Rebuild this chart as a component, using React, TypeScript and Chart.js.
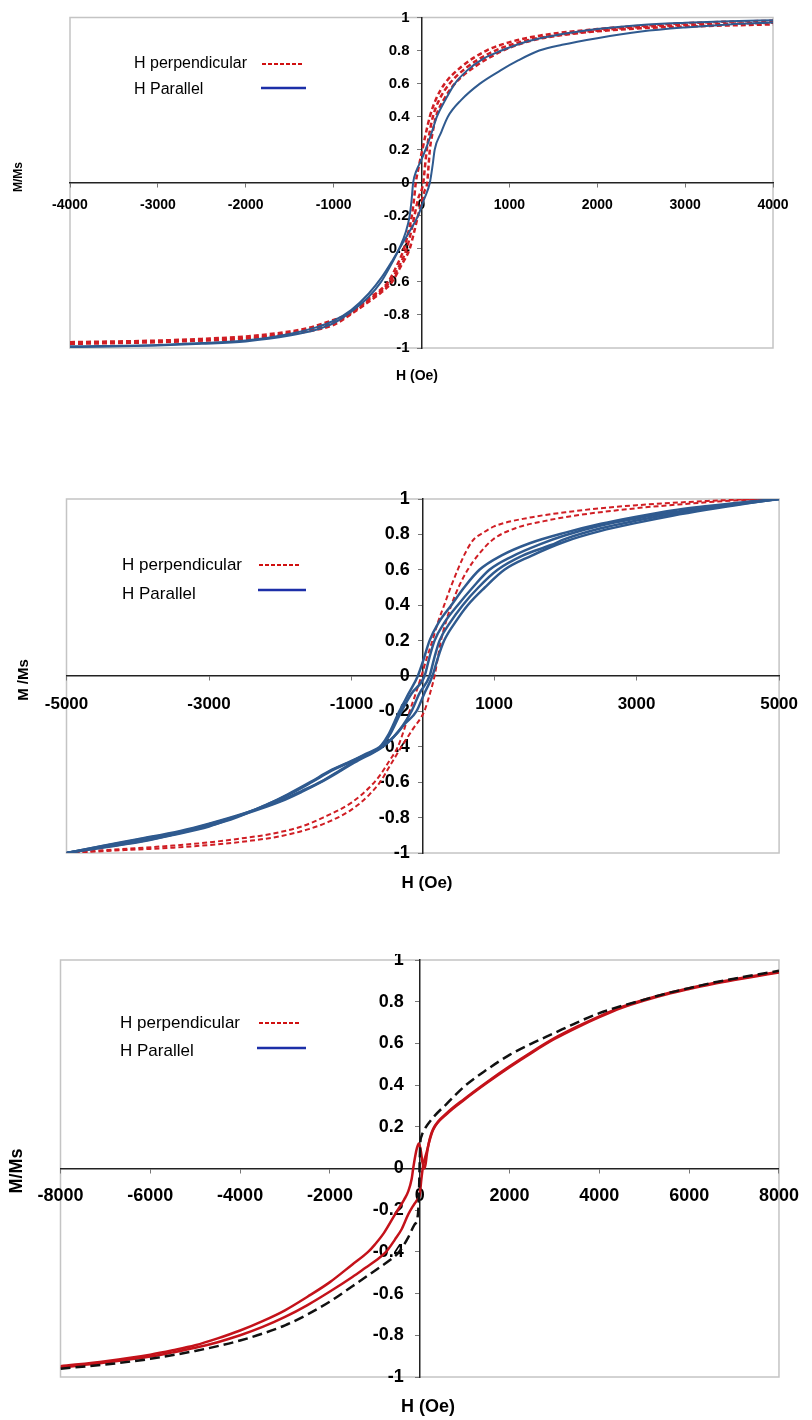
import React, { useEffect, useRef } from "react";
import { Chart, registerables } from "chart.js";
Chart.register(...registerables);

type P = [number, number];

const FONT = '"Liberation Sans", Arial, Helvetica, sans-serif';

// ---------- shared labels / ticks ----------
const legendLabels = ["H perpendicular", "H Parallel"];
const xTitle = "H (Oe)";
const yTitles = ["M/Ms", "M /Ms", "M/Ms"];
const yTicks = [-1, -0.8, -0.6, -0.4, -0.2, 0, 0.2, 0.4, 0.6, 0.8, 1];
const xTicks1 = [-4000, -3000, -2000, -1000, 0, 1000, 2000, 3000, 4000];
const xTicks2 = [-5000, -3000, -1000, 1000, 3000, 5000];
const xTicks3 = [-8000, -6000, -4000, -2000, 0, 2000, 4000, 6000, 8000];

// ---------- chart 1 ----------
const c1ParA: P[] = [[-4000,-0.995],[-3000,-0.985],[-2500,-0.975],[-2000,-0.96],[-1500,-0.925],[-1200,-0.89],[-1000,-0.85],[-800,-0.78],[-600,-0.69],[-460,-0.6],[-350,-0.5],[-255,-0.4],[-180,-0.3],[-135,-0.2],[-112,-0.1],[-95,0],[-60,0.07],[0,0.14],[60,0.22],[120,0.31],[175,0.4],[270,0.5],[380,0.6],[520,0.68],[700,0.75],[910,0.8],[1200,0.855],[1500,0.89],[2000,0.93],[2500,0.955],[3000,0.968],[3500,0.977],[4000,0.983]];
const c1ParB: P[] = [[-4000,-0.99],[-3000,-0.982],[-2500,-0.97],[-2000,-0.955],[-1500,-0.915],[-1200,-0.875],[-1000,-0.835],[-800,-0.77],[-600,-0.67],[-450,-0.57],[-330,-0.47],[-220,-0.37],[-120,-0.28],[-40,-0.2],[30,-0.1],[95,0],[125,0.1],[150,0.2],[220,0.3],[300,0.4],[450,0.5],[665,0.6],[900,0.68],[1100,0.74],[1340,0.8],[1600,0.835],[2000,0.875],[2500,0.915],[3000,0.94],[3500,0.958],[4000,0.97]];
const c1PerA: P[] = [[-4000,-0.965],[-3000,-0.955],[-2500,-0.945],[-2000,-0.93],[-1500,-0.9],[-1300,-0.88],[-1000,-0.83],[-850,-0.8],[-600,-0.7],[-380,-0.6],[-280,-0.5],[-200,-0.4],[-150,-0.3],[-110,-0.2],[-85,-0.1],[-65,0],[-30,0.1],[10,0.2],[50,0.3],[95,0.4],[160,0.5],[265,0.6],[450,0.7],[740,0.8],[1000,0.85],[1340,0.89],[2000,0.93],[2500,0.95],[3000,0.965],[3500,0.975],[4000,0.98]];
const c1PerB: P[] = [[-4000,-0.975],[-3000,-0.965],[-2500,-0.955],[-2000,-0.945],[-1500,-0.915],[-1300,-0.9],[-1000,-0.86],[-815,-0.8],[-600,-0.72],[-450,-0.66],[-335,-0.6],[-230,-0.5],[-135,-0.4],[-85,-0.3],[-40,-0.2],[0,-0.12],[35,-0.05],[65,0],[80,0.1],[95,0.2],[125,0.3],[165,0.4],[250,0.5],[380,0.6],[600,0.7],[930,0.8],[1250,0.86],[1700,0.9],[2500,0.935],[3000,0.945],[3500,0.952],[4000,0.958]];
const c1PerC: P[] = [[-4000,-0.97],[-3000,-0.96],[-2000,-0.94],[-1500,-0.91],[-1000,-0.845],[-830,-0.8],[-600,-0.71],[-360,-0.6],[-250,-0.5],[-170,-0.4],[-120,-0.3],[-80,-0.2],[-40,-0.1],[20,0],[40,0.1],[60,0.2],[90,0.3],[130,0.4],[200,0.5],[320,0.6],[520,0.7],[840,0.8],[1150,0.855],[1500,0.89],[2300,0.935],[3000,0.955],[4000,0.968]];

// ---------- chart 2 ----------
const c2ParA: P[] = [[-5000,-1],[-4500,-0.97],[-4000,-0.94],[-3530,-0.9],[-3000,-0.85],[-2660,-0.8],[-2200,-0.73],[-1900,-0.67],[-1580,-0.6],[-1300,-0.535],[-1000,-0.48],[-800,-0.44],[-640,-0.41],[-580,-0.39],[-480,-0.33],[-330,-0.2],[-200,-0.1],[-70,0],[0,0.08],[95,0.2],[220,0.3],[400,0.4],[580,0.5],[795,0.6],[1100,0.68],[1500,0.75],[2000,0.81],[2500,0.86],[3000,0.9],[3500,0.935],[4000,0.96],[4500,0.982],[5000,1]];
const c2ParB: P[] = [[-5000,-1],[-4500,-0.968],[-4000,-0.937],[-3500,-0.895],[-3000,-0.847],[-2620,-0.8],[-2200,-0.728],[-1880,-0.67],[-1560,-0.6],[-1280,-0.535],[-1000,-0.482],[-800,-0.445],[-630,-0.415],[-560,-0.39],[-460,-0.33],[-300,-0.2],[-160,-0.1],[25,0],[90,0.1],[165,0.2],[300,0.3],[490,0.4],[700,0.5],[935,0.6],[1250,0.675],[1650,0.745],[2000,0.795],[2500,0.85],[3000,0.89],[3500,0.925],[4000,0.953],[4500,0.978],[5000,1]];
const c2ParC: P[] = [[-5000,-1],[-4500,-0.962],[-4000,-0.925],[-3400,-0.88],[-3000,-0.838],[-2500,-0.78],[-2000,-0.71],[-1700,-0.655],[-1430,-0.6],[-1150,-0.535],[-900,-0.475],[-700,-0.435],[-560,-0.4],[-420,-0.35],[-280,-0.28],[-160,-0.2],[-50,-0.1],[95,0],[160,0.1],[235,0.2],[380,0.3],[560,0.4],[780,0.5],[1050,0.6],[1400,0.68],[1800,0.74],[2000,0.775],[2500,0.835],[3000,0.878],[3500,0.915],[4000,0.946],[4500,0.975],[5000,1]];
const c2ParD: P[] = [[-5000,-1],[-4500,-0.96],[-4000,-0.922],[-3400,-0.875],[-3000,-0.834],[-2500,-0.775],[-2000,-0.705],[-1700,-0.65],[-1420,-0.595],[-1150,-0.53],[-900,-0.47],[-700,-0.43],[-540,-0.39],[-400,-0.34],[-250,-0.27],[-90,-0.2],[20,-0.1],[135,0],[210,0.1],[300,0.2],[450,0.3],[630,0.4],[870,0.5],[1145,0.6],[1500,0.675],[2000,0.76],[2500,0.82],[3000,0.865],[3500,0.905],[4000,0.94],[4500,0.972],[5000,1]];
const c2PerA: P[] = [[-5000,-1],[-4500,-0.985],[-4000,-0.972],[-3500,-0.958],[-3000,-0.94],[-2500,-0.915],[-2100,-0.89],[-1700,-0.85],[-1400,-0.8],[-1000,-0.715],[-750,-0.63],[-600,-0.56],[-470,-0.48],[-350,-0.4],[-260,-0.3],[-185,-0.2],[-100,-0.1],[-20,0],[55,0.1],[135,0.2],[210,0.3],[300,0.4],[390,0.5],[490,0.6],[590,0.69],[700,0.765],[850,0.81],[1000,0.845],[1500,0.895],[2000,0.925],[2500,0.948],[3000,0.965],[3500,0.978],[4000,0.989],[4500,0.997],[5000,1]];
const c2PerB: P[] = [[-5000,-1],[-4500,-0.99],[-4000,-0.98],[-3500,-0.97],[-3000,-0.955],[-2400,-0.93],[-2000,-0.905],[-1600,-0.865],[-1300,-0.82],[-1000,-0.755],[-750,-0.67],[-600,-0.6],[-450,-0.5],[-300,-0.4],[-140,-0.3],[20,-0.2],[100,-0.1],[165,0],[210,0.1],[255,0.2],[320,0.3],[400,0.4],[500,0.5],[630,0.6],[790,0.69],[980,0.77],[1300,0.835],[1700,0.875],[2200,0.91],[3000,0.948],[3500,0.966],[4000,0.982],[4500,0.994],[5000,1]];

// ---------- chart 3 ----------
const c3Black: P[] = [[-8000,-0.96],[-7000,-0.94],[-6000,-0.913],[-5000,-0.875],[-4500,-0.852],[-4000,-0.825],[-3500,-0.792],[-3000,-0.752],[-2500,-0.7],[-2000,-0.638],[-1500,-0.565],[-1000,-0.49],[-700,-0.445],[-460,-0.4],[-256,-0.33],[-120,-0.27],[-40,-0.22],[-15,-0.1],[0,0.04],[12,0.12],[40,0.155],[100,0.185],[300,0.245],[600,0.31],[1000,0.395],[1500,0.475],[2000,0.545],[2500,0.6],[3000,0.65],[3500,0.7],[4000,0.745],[4500,0.78],[5000,0.81],[5500,0.84],[6000,0.865],[6500,0.89],[7000,0.91],[7500,0.93],[8000,0.948]];
const c3RedA: P[] = [[-8000,-0.948],[-7000,-0.924],[-6000,-0.893],[-5500,-0.872],[-5000,-0.848],[-4500,-0.815],[-4000,-0.777],[-3500,-0.732],[-3000,-0.68],[-2500,-0.615],[-2000,-0.545],[-1500,-0.46],[-1150,-0.4],[-1000,-0.365],[-800,-0.31],[-550,-0.22],[-350,-0.15],[-256,-0.11],[-180,-0.05],[-146,0],[-100,0.06],[-60,0.1],[-22,0.12],[20,0.09],[60,0.03],[100,0],[130,0.02],[160,0.07],[220,0.14],[300,0.19],[600,0.265],[1000,0.335],[1500,0.415],[2000,0.49],[2500,0.56],[3000,0.625],[3500,0.68],[4000,0.73],[4500,0.775],[5000,0.81],[5500,0.84],[6000,0.865],[6500,0.888],[7000,0.908],[7500,0.926],[8000,0.943]];
const c3RedB: P[] = [[-8000,-0.955],[-7000,-0.931],[-6000,-0.902],[-5500,-0.882],[-5000,-0.86],[-4500,-0.833],[-4000,-0.8],[-3500,-0.76],[-3000,-0.712],[-2500,-0.655],[-2000,-0.59],[-1500,-0.52],[-1200,-0.475],[-1000,-0.445],[-750,-0.4],[-550,-0.34],[-400,-0.29],[-256,-0.22],[-150,-0.18],[-73,-0.155],[0,-0.125],[37,-0.05],[80,0.02],[150,0.075],[220,0.135],[300,0.186],[600,0.261],[1000,0.331],[1500,0.411],[2000,0.486],[2500,0.556],[3000,0.621],[3500,0.676],[4000,0.726],[4500,0.771],[5000,0.806],[5500,0.836],[6000,0.861],[6500,0.884],[7000,0.904],[7500,0.922],[8000,0.94]];

// ---------- presentation ----------
const BLUE = "#2f5a8f";
const RED = "#d01e24";
const RED3 = "#c4121a";
const BLACK = "#111111";

type DS = { data: P[]; color: string; width: number; dash?: number[] };

interface Spec {
  top: number; height: number;
  padding: { left: number; right: number; top: number; bottom: number };
  xMin: number; xMax: number; xTicks: number[];
  xTickSize: number; xPad: number;
  yTickSize: number; yGap: number;
  yTitle: string; yTitleX: number; yTitleY: number; yTitleSize: number;
  xTitleX: number; xTitleY: number; xTitleSize: number;
  legX: number; legY1: number; legY2: number; legSize: number;
  redLine: [number, number, number]; blueLine: [number, number, number];
  series: DS[];
}

const specs: Spec[] = [
  {
    top: 0, height: 400,
    padding: { left: 70, right: 39, top: 17.5, bottom: 52 },
    xMin: -4000, xMax: 4000, xTicks: xTicks1, xTickSize: 14, xPad: 10,
    yTickSize: 15, yGap: 12,
    yTitle: yTitles[0], yTitleX: 19, yTitleY: 177, yTitleSize: 12,
    xTitleX: 417, xTitleY: 376.5, xTitleSize: 14,
    legX: 134, legY1: 64, legY2: 90, legSize: 16,
    redLine: [262, 302, 64], blueLine: [261, 306, 88],
    series: [
      { data: c1ParA, color: BLUE, width: 2 },
      { data: c1ParB, color: BLUE, width: 2 },
      { data: c1PerA, color: RED, width: 2.5, dash: [5, 3] },
      { data: c1PerB, color: RED, width: 2.5, dash: [5, 3] },
      { data: c1PerC, color: RED, width: 2.5, dash: [5, 3] },
    ],
  },
  {
    top: 460, height: 440,
    padding: { left: 66.5, right: 32, top: 39, bottom: 47 },
    xMin: -5000, xMax: 5000, xTicks: xTicks2, xTickSize: 17, xPad: 14,
    yTickSize: 18, yGap: 13,
    yTitle: yTitles[1], yTitleX: 24, yTitleY: 680, yTitleSize: 15,
    xTitleX: 427, xTitleY: 883, xTitleSize: 17,
    legX: 122, legY1: 565, legY2: 594, legSize: 17,
    redLine: [259, 300, 565], blueLine: [258, 306, 590],
    series: [
      { data: c2ParA, color: BLUE, width: 2.5 },
      { data: c2ParB, color: BLUE, width: 2.5 },
      { data: c2ParC, color: BLUE, width: 2.5 },
      { data: c2ParD, color: BLUE, width: 2.5 },
      { data: c2PerA, color: RED, width: 2, dash: [5, 3] },
      { data: c2PerB, color: RED, width: 2, dash: [5, 3] },
    ],
  },
  {
    top: 954, height: 466,
    padding: { left: 60.5, right: 21, top: 6, bottom: 43 },
    xMin: -8000, xMax: 8000, xTicks: xTicks3, xTickSize: 18, xPad: 13,
    yTickSize: 18, yGap: 16,
    yTitle: yTitles[2], yTitleX: 17, yTitleY: 1171, yTitleSize: 18,
    xTitleX: 428, xTitleY: 1407, xTitleSize: 18,
    legX: 120, legY1: 1023, legY2: 1051, legSize: 17,
    redLine: [259, 300, 1023], blueLine: [257, 306, 1048],
    series: [
      { data: c3Black, color: BLACK, width: 2.5, dash: [10, 5] },
      { data: c3RedA, color: RED3, width: 2.5 },
      { data: c3RedB, color: RED3, width: 2.5 },
    ],
  },
];

const fmtY = (v: number) => String(Math.round(v * 10) / 10);

function decoPlugin(spec: Spec) {
  return {
    id: "deco",
    beforeDraw(chart: any) {
      const { ctx, chartArea: a } = chart;
      ctx.save();
      ctx.fillStyle = "#ffffff";
      ctx.fillRect(0, 0, chart.width, chart.height);
      ctx.strokeStyle = "#c4c4c4";
      ctx.lineWidth = 1.5;
      ctx.strokeRect(a.left, a.top, a.right - a.left, a.bottom - a.top);
      ctx.restore();
    },
    beforeDatasetsDraw(chart: any) {
      const { ctx } = chart;
      const xs = chart.scales.x;
      const ys = chart.scales.y;
      const x0 = xs.getPixelForValue(0);
      ctx.save();
      ctx.fillStyle = "#000";
      ctx.font = `bold ${spec.yTickSize}px ${FONT}`;
      ctx.textAlign = "right";
      ctx.textBaseline = "middle";
      yTicks.forEach((v) => ctx.fillText(fmtY(v), x0 - spec.yGap, ys.getPixelForValue(v)));
      ctx.restore();
    },
    afterDraw(chart: any) {
      const { ctx } = chart;
      const off = spec.top;
      ctx.save();
      ctx.fillStyle = "#000";
      ctx.save();
      ctx.translate(spec.yTitleX, spec.yTitleY - off);
      ctx.rotate(-Math.PI / 2);
      ctx.font = `bold ${spec.yTitleSize}px ${FONT}`;
      ctx.textAlign = "center";
      ctx.textBaseline = "middle";
      ctx.fillText(spec.yTitle, 0, 0);
      ctx.restore();
      ctx.font = `bold ${spec.xTitleSize}px ${FONT}`;
      ctx.textAlign = "center";
      ctx.textBaseline = "middle";
      ctx.fillText(xTitle, spec.xTitleX, spec.xTitleY - off);
      ctx.font = `${spec.legSize}px ${FONT}`;
      ctx.textAlign = "left";
      ctx.fillText(legendLabels[0], spec.legX, spec.legY1 - off);
      ctx.fillText(legendLabels[1], spec.legX, spec.legY2 - off);
      const [r1, r2, ry] = spec.redLine;
      ctx.strokeStyle = "#d01010";
      ctx.lineWidth = 2;
      ctx.setLineDash([4, 2]);
      ctx.beginPath();
      ctx.moveTo(r1, ry - off);
      ctx.lineTo(r2, ry - off);
      ctx.stroke();
      const [b1, b2, by] = spec.blueLine;
      ctx.setLineDash([]);
      ctx.strokeStyle = "#1c2fa8";
      ctx.lineWidth = 2.5;
      ctx.beginPath();
      ctx.moveTo(b1, by - off);
      ctx.lineTo(b2, by - off);
      ctx.stroke();
      ctx.restore();
    },
  };
}

function LoopChart({ spec }: { spec: Spec }) {
  const ref = useRef<HTMLCanvasElement>(null);
  useEffect(() => {
    const canvas = ref.current;
    if (!canvas) return;
    const chart = new Chart(canvas, {
      type: "scatter",
      data: {
        datasets: spec.series.map((s) => ({
          data: s.data.map(([x, y]) => ({ x, y })),
          borderColor: s.color,
          backgroundColor: s.color,
          borderWidth: s.width,
          borderDash: s.dash || [],
          pointRadius: 0,
          showLine: true,
          fill: false,
          tension: 0.4,
          cubicInterpolationMode: "monotone",
        })),
      },
      options: {
        animation: false,
        responsive: false,
        devicePixelRatio: 1,
        events: [],
        layout: { padding: spec.padding },
        plugins: { legend: { display: false }, tooltip: { enabled: false }, title: { display: false } },
        scales: {
          x: {
            type: "linear",
            min: spec.xMin,
            max: spec.xMax,
            position: { y: 0 },
            afterBuildTicks: (s: any) => {
              s.ticks = spec.xTicks.map((v) => ({ value: v }));
            },
            grid: { drawOnChartArea: false, drawTicks: true, tickLength: 4, color: "#777", lineWidth: 1 },
            border: { display: true, color: "#222", width: 1.5 },
            ticks: {
              font: { family: FONT, size: spec.xTickSize, weight: "bold" },
              color: "#000",
              padding: spec.xPad,
              maxRotation: 0,
              autoSkip: false,
              callback: (v: any) => String(v),
            },
          },
          y: {
            type: "linear",
            min: -1,
            max: 1,
            position: { x: 0 },
            afterBuildTicks: (s: any) => {
              s.ticks = yTicks.map((v) => ({ value: v }));
            },
            grid: { drawOnChartArea: false, drawTicks: true, tickLength: 4, color: "#777", lineWidth: 1 },
            border: { display: true, color: "#222", width: 1.5 },
            ticks: { display: false },
          },
        },
      } as any,
      plugins: [decoPlugin(spec)],
    });
    return () => chart.destroy();
  }, [spec]);
  return (
    <canvas
      ref={ref}
      width={812}
      height={spec.height}
      style={{ position: "absolute", left: 0, top: spec.top, width: 812, height: spec.height }}
    />
  );
}

export default function App() {
  return (
    <div style={{ position: "absolute", left: 0, top: 0, width: 812, height: 1420, background: "#fff", overflow: "hidden" }}>
      {specs.map((s, i) => (
        <LoopChart key={i} spec={s} />
      ))}
    </div>
  );
}
